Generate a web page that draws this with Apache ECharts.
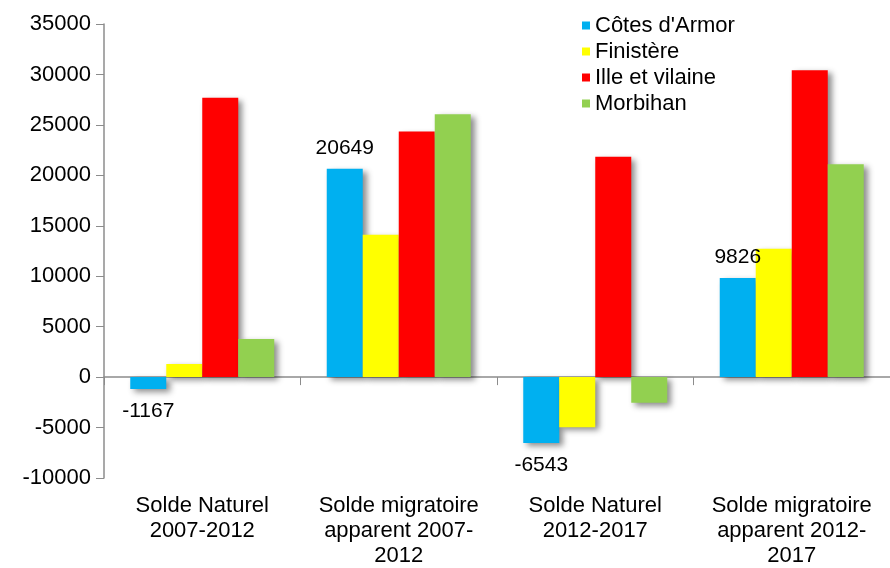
<!DOCTYPE html>
<html>
<head>
<meta charset="utf-8">
<script src="https://cdn.jsdelivr.net/npm/echarts@6/dist/echarts.min.js"></script>
<style>
html, body { margin: 0; padding: 0; background: #fff; }
#chart { width: 890px; height: 568px; }
</style>
</head>
<body>
<div id="chart"></div>
<script>
var categories = ['Solde Naturel\n2007-2012', 'Solde migratoire\napparent 2007-\n2012', 'Solde Naturel\n2012-2017', 'Solde migratoire\napparent 2012-\n2017'];
var cotesArmor = [-1167, 20649, -6543, 9826];
var finistere = [1300, 14100, -4970, 12720];
var illeVilaine = [27700, 24340, 21830, 30420];
var morbihan = [3780, 26060, -2550, 21110];

var FONT = 'Liberation Sans, Arial, sans-serif';
var chart = echarts.init(document.getElementById('chart'));

var shadow = {
	shadowColor: 'rgba(0,0,0,0.45)',
	shadowBlur: 6,
	shadowOffsetX: 4,
	shadowOffsetY: 3
};

function barSeries(name, data, color) {
	return {
		name: name,
		type: 'bar',
		xAxisIndex: 0,
		barWidth: 36,
		barGap: '0%',
		data: data,
		itemStyle: Object.assign({ color: color }, shadow)
	};
}

var cotesData = cotesArmor.map(function (v) {
	return {
		value: v,
		label: {
			show: true,
			position: v < 0 ? 'bottom' : 'top',
			distance: v < 0 ? 12 : 10
		}
	};
});

var s1 = barSeries("Côtes d'Armor", cotesData, '#00B0F0');
s1.label = { fontFamily: FONT, fontSize: 21, color: '#000' };

var option = {
	animation: false,
	legend: {
		orient: 'vertical',
		left: 577,
		top: 9,
		itemWidth: 8,
		itemHeight: 8,
		itemGap: 3,
		icon: 'rect',
		textStyle: { fontFamily: FONT, fontSize: 22, color: '#000', lineHeight: 23 },
		data: ["Côtes d'Armor", 'Finistère', 'Ille et vilaine', 'Morbihan']
	},
	grid: { left: 104, right: -6, top: 24, bottom: 88 },
	xAxis: [{
		type: 'category',
		data: categories,
		axisLine: { onZero: true, lineStyle: { color: '#8c8c8c', width: 1.5 } },
		axisTick: { show: true, length: 8, inside: false, lineStyle: { color: '#8c8c8c' } },
		axisLabel: { show: false },
		splitLine: { show: false }
	}, {
		type: 'category',
		data: categories,
		position: 'bottom',
		axisLine: { show: false, onZero: false },
		axisTick: { show: false },
		axisLabel: { fontFamily: FONT, fontSize: 22, color: '#000', lineHeight: 25, margin: 15, interval: 0 }
	}],
	yAxis: {
		type: 'value',
		min: -10000,
		max: 35000,
		interval: 5000,
		axisLine: { show: true, lineStyle: { color: '#8c8c8c', width: 1.5 } },
		axisTick: { show: true, length: 8, lineStyle: { color: '#8c8c8c' } },
		axisLabel: {
			fontFamily: FONT, fontSize: 22, color: '#000', margin: 13,
			formatter: function (v) { return String(v); }
		},
		splitLine: { show: false }
	},
	series: [
		s1,
		barSeries('Finistère', finistere, '#FFFF00'),
		barSeries('Ille et vilaine', illeVilaine, '#FF0000'),
		barSeries('Morbihan', morbihan, '#92D050')
	]
};

chart.setOption(option);
</script>
</body>
</html>
